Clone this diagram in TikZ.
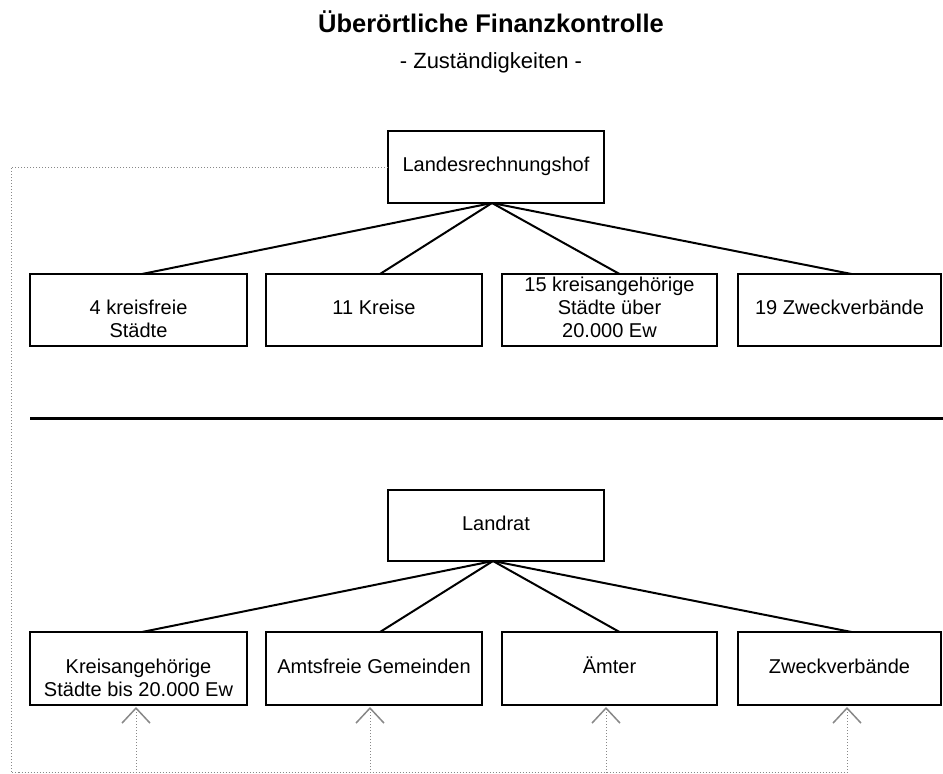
\documentclass[tikz,border=0pt]{standalone}
\usepackage{fontspec}
\setmainfont{Liberation Sans}
\usepackage{tikz}
\usetikzlibrary{positioning,arrows.meta}
\definecolor{dotgray}{RGB}{136,136,136}

\begin{document}
\begin{tikzpicture}[x=1pt,y=-1pt,
    box/.style={draw,line width=2.5pt,minimum width=216pt,minimum height=72pt,
      inner sep=0pt,outer sep=0pt,align=center,font=\fontsize{20}{23}\selectfont},
    link/.style={line width=2pt},
    feed/.style={draw=dotgray,line width=1pt,dash pattern=on 1pt off 2pt}]
    \useasboundingbox (0,0) rectangle (943,774);
    \node[font=\bfseries\fontsize{25.5}{29}\selectfont] (title) at (491,22) {Überörtliche Finanzkontrolle};
    \node[font=\fontsize{22}{26}\selectfont] (subtitle) at (491,63) {- Zuständigkeiten -};
    \node[box] (lrh) at (496,167) {\strut Landesrechnungshof};
    \node[box,minimum width=217pt] (a1) at (138.5,310) {\strut\\\strut 4 kreisfreie\\\strut Städte};
    \node[box,right=19pt of a1] (a2) {\strut 11 Kreise};
    \node[box,minimum width=215pt,right=20pt of a2] (a3) {\strut 15 kreisangehörige\\\strut Städte über\\\strut 20.000 Ew};
    \node[box,minimum width=203pt,right=21pt of a3] (a4) {\strut 19 Zweckverbände};
    \draw[line width=3pt] (30,418) -- (943,418);
    \node[box,minimum height=71pt] (lr) at (496,525.5) {\strut Landrat};
    \node[box,minimum width=217pt,minimum height=73pt] (b1) at (138.5,668.5) {\strut\\\strut Kreisangehörige\\\strut Städte bis 20.000 Ew};
    \node[box,minimum height=73pt,right=19pt of b1] (b2) {\strut Amtsfreie Gemeinden};
    \node[box,minimum width=215pt,minimum height=73pt,right=20pt of b2] (b3) {\strut Ämter};
    \node[box,minimum width=203pt,minimum height=73pt,right=21pt of b3] (b4) {\strut Zweckverbände};
    \foreach \n/\s in {1/3.5,2/6,3/10,4/12}{
      \draw[link] ([xshift=-4pt]lrh.south) -- ([xshift=\s pt]a\n.north);
      \draw[link] ([xshift=-3pt]lr.south) -- ([xshift=\s pt]b\n.north);
    }
    \coordinate (corner) at (11,772.5);
    \coordinate (f1) at (136,772.5);
    \coordinate (f2) at (370,772.5);
    \coordinate (f3) at (606,772.5);
    \coordinate (f4) at (847,772.5);
    \draw[feed] (lrh.west) -| (corner) -- (f4);
    \foreach \n in {1,...,4}
      \draw[feed,shorten >=2pt,-{Straight Barb[width=28pt,length=15pt,line width=1.5pt]}] (f\n) -- (f\n |- b\n.south);
\end{tikzpicture}
\end{document}
